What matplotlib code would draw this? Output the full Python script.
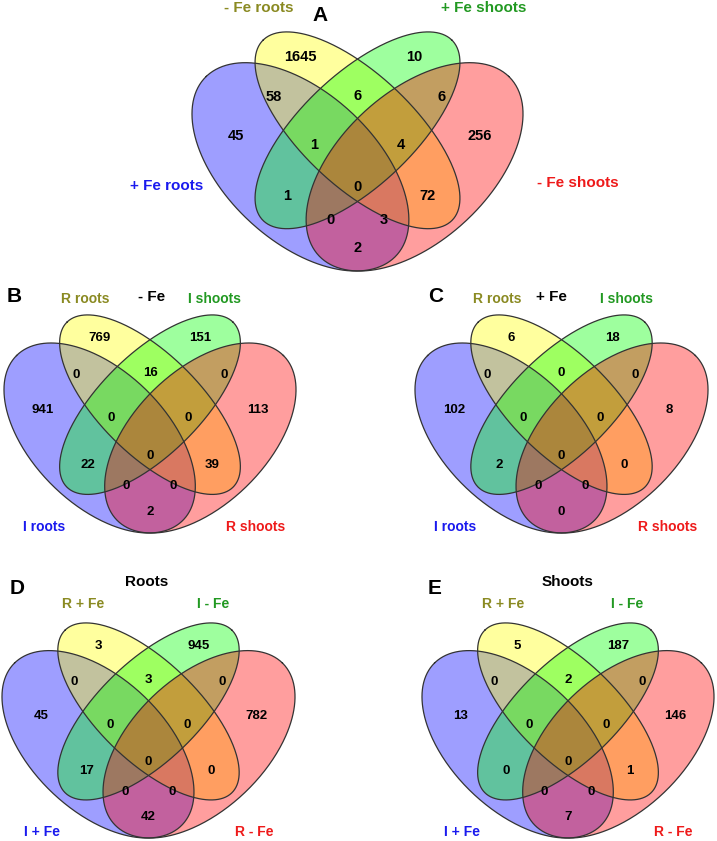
import matplotlib.pyplot as plt
import numpy as np

# region order: B=blue(set1), Y=yellow(set2), G=green(set3), R=red(set4)
regions = ['Y', 'G', 'BY', 'YG', 'GR', 'B', 'BYG', 'YGR', 'R',
           'BYGR', 'BG', 'YR', 'BGR', 'BYR', 'BR']

counts_a = [1645, 10, 58, 6, 6, 45, 1, 4, 256, 0, 1, 72, 0, 3, 2]
counts_b = [769, 151, 0, 16, 0, 941, 0, 0, 113, 0, 22, 39, 0, 0, 2]
counts_c = [6, 18, 0, 0, 0, 102, 0, 0, 8, 0, 2, 0, 0, 0, 0]
counts_d = [3, 945, 0, 3, 0, 45, 0, 0, 782, 0, 17, 0, 0, 0, 42]
counts_e = [5, 187, 0, 2, 0, 13, 0, 0, 146, 0, 0, 1, 0, 0, 7]

# set names: blue, yellow, green, red
sets_a = ['+ Fe roots', '- Fe roots', '+ Fe shoots', '- Fe shoots']
sets_b = ['I roots', 'R roots', 'I shoots', 'R shoots']
sets_c = ['I roots', 'R roots', 'I shoots', 'R shoots']
sets_d = ['I + Fe', 'R + Fe', 'I - Fe', 'R - Fe']
sets_e = ['I + Fe', 'R + Fe', 'I - Fe', 'R - Fe']

# unit-square layout of the 4-ellipse venn (x, y, a, b, angle)
ellipses = [(0.35, 0.47, 0.35, 0.20, 135),
            (0.50, 0.57, 0.35, 0.15, 135),
            (0.50, 0.57, 0.35, 0.15, 45),
            (0.65, 0.47, 0.35, 0.20, 45)]
fills = ['#0000ff', '#ffff00', '#00ff00', '#ff0000']
label_pos = {'Y': (0.35, 0.77), 'G': (0.65, 0.77), 'BY': (0.28, 0.66),
             'YG': (0.5, 0.665), 'GR': (0.72, 0.66), 'B': (0.18, 0.555),
             'BYG': (0.385, 0.53), 'YGR': (0.615, 0.53), 'R': (0.82, 0.555),
             'BYGR': (0.5, 0.415), 'BG': (0.315, 0.39), 'YR': (0.685, 0.39),
             'BGR': (0.43, 0.325), 'BYR': (0.57, 0.325), 'BR': (0.5, 0.248)}
set_colors = ['#1a1aee', '#8a8a22', '#229922', '#ee1a1a']

W, H = 717, 841
fig = plt.figure(figsize=(W / 100, H / 100), dpi=100)
ax = fig.add_axes([0, 0, 1, 1])
ax.set_xlim(0, W)
ax.set_ylim(H, 0)
ax.axis('off')
plt.rcParams['font.family'] = ['Liberation Sans', 'DejaVu Sans']


def venn(counts, names, left, right, top, bottom, numsize, setsize, set_xy):
    sx = (right - left) / 0.87
    ox = left - 0.065 * sx
    sy = (bottom - top) / 0.654
    t = np.linspace(0, 2 * np.pi, 400)
    for (cx, cy, a, b, ang), c in zip(ellipses, fills):
        r = np.radians(ang)
        x = cx + a * np.cos(t) * np.cos(r) - b * np.sin(t) * np.sin(r)
        y = cy + a * np.cos(t) * np.sin(r) + b * np.sin(t) * np.cos(r)
        px = ox + sx * x
        py = top + (0.839 - y) * sy
        ax.fill(px, py, color=c, alpha=0.38, lw=0)
        ax.plot(px, py, color='#333333', lw=0.9)
    for key, n in zip(regions, counts):
        ux, uy = label_pos[key]
        ax.text(ox + sx * ux, top + (0.839 - uy) * sy, str(n),
                ha='center', va='center', fontsize=numsize, fontweight='bold')
    for name, c, (x, y) in zip(names, set_colors, set_xy):
        ax.text(x, y, name, ha='center', va='center', fontsize=setsize,
                fontweight='bold', color=c)


venn(counts_a, sets_a, 192, 523, 32, 271, 10.5, 11,
     [(167, 186), (259, 8), (484, 8), (578, 183)])
venn(counts_b, sets_b, 4, 296, 315, 533, 9.5, 10,
     [(44, 527), (85, 299), (215, 299), (256, 527)])
venn(counts_c, sets_c, 415, 708, 315, 533, 9.5, 10,
     [(455, 527), (497, 299), (627, 299), (668, 527)])
venn(counts_d, sets_d, 2, 295, 623, 838, 9.5, 10,
     [(42, 832), (83, 604), (213, 604), (254, 832)])
venn(counts_e, sets_e, 422, 714, 623, 838, 9.5, 10,
     [(462, 832), (503, 604), (627, 604), (673, 832)])

# panel letters and titles
for letter, x, y in [('A', 320, 15), ('B', 14, 297), ('C', 436, 297),
                     ('D', 17, 589), ('E', 435, 589)]:
    ax.text(x, y, letter, ha='center', va='center', fontsize=15, fontweight='bold')
for title, x, y in [('- Fe', 152, 297), ('+ Fe', 551, 297),
                    ('Roots', 147, 582), ('Shoots', 568, 582)]:
    ax.text(x, y, title, ha='center', va='center', fontsize=11, fontweight='bold')

fig.savefig('out.png', dpi=100)
